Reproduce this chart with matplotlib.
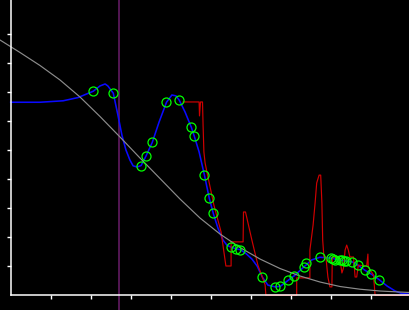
import matplotlib
matplotlib.use("Agg")
import matplotlib.pyplot as plt

# gray reference curve
gray_x = [-0.2675, 0.2325, 0.7325, 1.2325, 1.7325, 2.2325, 2.7325, 3.2325, 3.7325,
          4.2325, 4.7325, 5.2325, 5.7325, 6.2325, 6.7325, 7.2325, 7.7325, 8.2325,
          8.7325, 9.2325, 9.9825]
gray_y = [8.794, 8.364, 7.916, 7.417, 6.831, 6.159, 5.453, 4.729, 4.023,
          3.317, 2.662, 2.111, 1.646, 1.250, 0.923, 0.665, 0.458, 0.303,
          0.210, 0.148, 0.096]

# vertical marker position
vline_x = 2.71

# blue smooth curve
blue_x = [0.0, 0.73, 1.31, 1.68, 2.065, 2.23, 2.36, 2.43, 2.565, 2.68, 2.78, 2.88,
          2.98, 3.06, 3.16, 3.26, 3.38, 3.54, 3.71, 3.895, 4.03, 4.13, 4.215, 4.36,
          4.515, 4.59, 4.71, 4.845, 4.965, 5.065, 5.18, 5.31, 5.41, 5.52, 5.64, 5.745,
          5.88, 6.03, 6.16, 6.295, 6.43, 6.61, 6.74, 6.94, 7.095, 7.34, 7.525, 7.73,
          8.01, 8.23, 8.395, 8.54, 8.69, 8.86, 9.015, 9.21, 9.41, 9.61, 9.78, 9.98]
blue_y = [6.65, 6.65, 6.70, 6.81, 7.03, 7.21, 7.28, 7.21, 6.96, 6.21, 5.52, 5.01,
          4.66, 4.46, 4.42, 4.47, 4.79, 5.27, 5.97, 6.65, 6.90, 6.87, 6.72, 6.31,
          5.79, 5.48, 4.94, 4.13, 3.34, 2.82, 2.32, 1.90, 1.72, 1.65, 1.60, 1.57,
          1.44, 1.25, 1.01, 0.62, 0.35, 0.29, 0.31, 0.52, 0.68, 0.99, 1.22, 1.31,
          1.28, 1.21, 1.18, 1.15, 1.03, 0.86, 0.73, 0.54, 0.32, 0.15, 0.06, 0.04]

# red noisy curve
red_x = [4.31, 4.71, 4.72, 4.745, 4.795, 4.81, 4.83, 4.86, 4.91, 5.08, 5.26, 5.38,
         5.51, 5.51, 5.81, 5.82, 5.87, 6.03, 6.18, 6.36, 6.38, 7.15, 7.15, 7.48,
         7.48, 7.56, 7.61, 7.65, 7.71, 7.75, 7.78, 7.80, 7.83, 7.88, 7.93, 7.98,
         8.03, 8.04, 8.23, 8.28, 8.32, 8.36, 8.40, 8.44, 8.48, 8.57, 8.61, 8.65,
         8.69, 8.90, 8.93, 8.94, 9.07, 9.11, 9.98]
red_y = [6.66, 6.66, 6.18, 6.66, 6.66, 5.83, 4.94, 4.56, 4.22, 3.11, 2.18, 1.01,
         1.01, 1.84, 1.84, 2.87, 2.87, 1.90, 1.04, 0.36, 0.0, 0.0, 0.60, 0.60,
         1.56, 2.42, 3.18, 3.87, 4.14, 4.14, 3.18, 1.90, 1.32, 1.32, 0.63, 0.29,
         0.29, 1.32, 1.28, 0.77, 0.94, 1.56, 1.73, 1.56, 1.32, 1.32, 0.63, 0.63,
         1.04, 1.01, 1.42, 0.97, 0.70, 0.0, 0.0]

# green sample points
pts_x = [2.065, 2.565, 3.26, 3.38, 3.54, 3.895, 4.215, 4.515, 4.59, 4.845, 4.965,
         5.065, 5.52, 5.64, 5.745, 6.295, 6.61, 6.74, 6.94, 7.095, 7.34, 7.395,
         7.73, 8.01, 8.06, 8.11, 8.23, 8.28, 8.34, 8.395, 8.54, 8.69, 8.86, 9.015, 9.21]
pts_y = [7.03, 6.96, 4.47, 4.79, 5.27, 6.65, 6.72, 5.79, 5.48, 4.13, 3.34,
         2.82, 1.65, 1.60, 1.57, 0.62, 0.29, 0.31, 0.52, 0.68, 0.99, 1.10,
         1.31, 1.28, 1.25, 1.23, 1.21, 1.20, 1.19, 1.18, 1.15, 1.03, 0.86, 0.73, 0.54]

ticks = [1, 2, 3, 4, 5, 6, 7, 8, 9]

fig = plt.figure(figsize=(4.1, 3.1), dpi=100, facecolor="black")
ax = fig.add_axes([0, 0, 1, 1], facecolor="black")
ax.set_xlim(-0.2675, 9.9825)
ax.set_ylim(-0.506, 10.172)

ax.axvline(vline_x, color="#6a1e6a", lw=1.1, zorder=1)
ax.plot(blue_x, blue_y, color="#0a0aff", lw=1.15, zorder=2)
ax.plot(red_x, red_y, color="#d00000", lw=0.85, zorder=3)
ax.plot(gray_x, gray_y, color="#8c8c8c", lw=0.85, zorder=4)
ax.plot(pts_x, pts_y, linestyle="none", marker="o", markersize=6.5,
        markerfacecolor="none", markeredgecolor="#00ff00", markeredgewidth=0.9, zorder=5)

for s in ["top", "right"]:
    ax.spines[s].set_visible(False)
ax.spines["left"].set_position(("data", 0))
ax.spines["bottom"].set_position(("data", 0))
ax.spines["left"].set_bounds(0, 10.172)
ax.spines["bottom"].set_bounds(0, 9.9825)
for s in ["left", "bottom"]:
    ax.spines[s].set_color("white")
    ax.spines[s].set_linewidth(1.1)
    ax.spines[s].set_zorder(6)

ax.set_xticks(ticks)
ax.set_yticks(ticks)
ax.tick_params(direction="out", length=3, width=1, colors="white",
               labelbottom=False, labelleft=False)

fig.savefig("out.png", dpi=100, facecolor="black")
